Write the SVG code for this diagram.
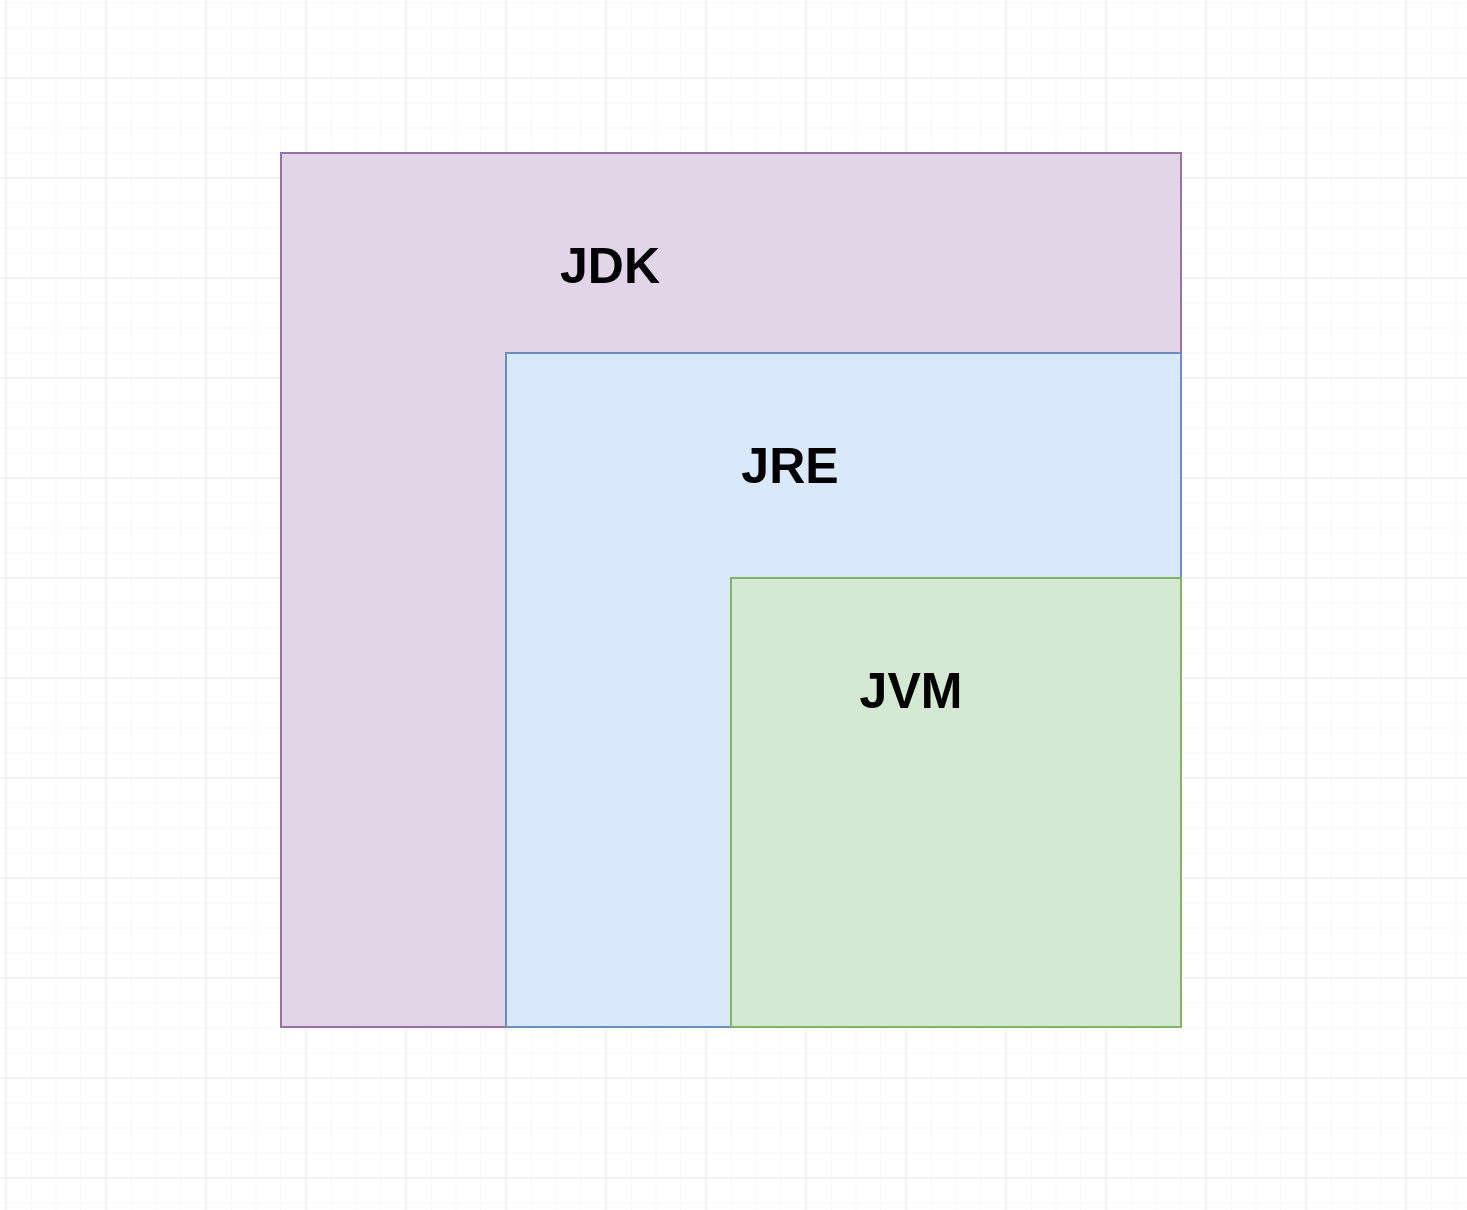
<svg xmlns="http://www.w3.org/2000/svg" width="1467" height="1210" viewBox="0 0 1467 1210">
<defs>
<pattern id="minor" x="5.5" y="2.5" width="25" height="25" patternUnits="userSpaceOnUse">
<path d="M0 0H25M0 0V25" fill="none" stroke="#f0f0f0" stroke-width="1"/>
</pattern>
<pattern id="major" x="5.5" y="77.5" width="100" height="100" patternUnits="userSpaceOnUse">
<path d="M0 0H100M0 0V100" fill="none" stroke="#dcdcdc" stroke-width="1"/>
</pattern>
</defs>
<style>
.lbl{font-family:"Liberation Sans",Arial,sans-serif;font-weight:bold;font-size:50px;fill:#000;text-anchor:middle}
.box{stroke-width:2}
</style>
<rect width="1467" height="1210" fill="#fff"/>
<rect width="1467" height="1210" fill="url(#minor)"/>
<rect width="1467" height="1210" fill="url(#major)"/>
<g id="jdk">
<rect class="box" x="281" y="153" width="900" height="874" fill="#e1d5e7" stroke="#9673a6"/>
<text class="lbl" x="610" y="283">JDK</text>
</g>
<g id="jre">
<rect class="box" x="506" y="353" width="675" height="674" fill="#dae8fc" stroke="#6c8ebf"/>
<text class="lbl" x="790" y="483">JRE</text>
</g>
<g id="jvm">
<rect class="box" x="731" y="578" width="450" height="449" fill="#d5e8d4" stroke="#82b366"/>
<text class="lbl" x="911" y="708">JVM</text>
</g>
<g id="connectors"/>
</svg>
